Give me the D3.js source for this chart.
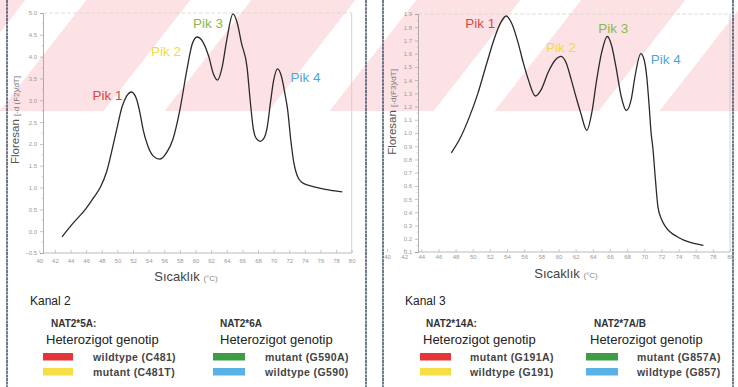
<!DOCTYPE html>
<html>
<head>
<meta charset="utf-8">
<script src="https://cdn.jsdelivr.net/npm/d3@7/dist/d3.min.js"></script>
<style>
  html, body { margin: 0; padding: 0; background: #fff; }
  svg { display: block; font-family: "Liberation Sans", Arial, sans-serif; }
</style>
</head>
<body>
<svg id="chart" width="738" height="387"></svg>
<script>
// ---------------- DATA ----------------
const xTickLabels = [40,42,44,46,48,50,52,54,56,58,60,62,64,66,68,70,72,74,76,78,80];
const yTicksKanal2 = [5.0,4.5,4.0,3.5,3.0,2.5,2.0,1.5,1.0,0.5,0.0,-0.5];
const yTicksKanal3 = [1.9,1.8,1.7,1.6,1.5,1.4,1.3,1.2,1.1,1.0,0.9,0.8,0.7,0.6,0.5,0.4,0.3,0.2,0.1];

// Kanal 2 melting curve (temperature °C, -dF2/dT)
const kanal2Temp = [42.9,44.3,45.9,47.0,47.8,48.6,49.3,49.9,50.6,51.2,51.8,52.4,52.9,53.3,53.9,54.6,55.4,56.3,57.1,58.0,58.9,59.6,60.2,60.9,61.7,62.3,62.8,63.4,64.0,64.8,65.3,65.9,66.6,67.0,67.4,67.8,68.3,68.8,69.2,69.6,70.0,70.5,71.0,71.5,71.8,72.2,72.6,73.0,73.6,74.5,75.6,77.2,78.8];
const kanal2Flu  = [-0.13,0.18,0.5,0.78,1.0,1.35,1.85,2.32,2.85,3.1,3.19,3.05,2.7,2.32,1.95,1.72,1.65,1.8,2.1,2.78,3.7,4.3,4.45,4.35,4.0,3.6,3.46,3.75,4.38,4.98,4.8,4.3,3.76,3.0,2.35,2.12,2.06,2.14,2.4,2.95,3.45,3.72,3.55,3.1,2.78,2.09,1.56,1.28,1.12,1.05,1.0,0.94,0.9];

// Kanal 3 melting curve (temperature °C, -dF3/dT)
const kanal3Temp = [47.5,48.6,49.6,50.6,51.6,52.6,53.3,53.9,54.6,55.3,55.9,56.5,57.3,58.0,58.8,59.6,60.3,60.9,61.5,62.1,62.6,63.3,63.9,64.4,65.0,65.7,66.2,66.7,67.3,67.9,68.5,68.9,69.6,70.0,70.3,70.6,70.8,71.0,71.3,71.6,72.0,72.5,74.0,75.5,76.9];
const kanal3Flu  = [0.85,0.97,1.12,1.30,1.52,1.73,1.84,1.885,1.82,1.68,1.53,1.40,1.28,1.33,1.46,1.55,1.58,1.53,1.40,1.26,1.15,1.02,1.16,1.38,1.60,1.73,1.66,1.50,1.28,1.17,1.26,1.42,1.60,1.55,1.42,1.18,1.0,0.89,0.65,0.44,0.35,0.29,0.21,0.17,0.15];

const peakNames = ["Pik 1","Pik 2","Pik 3","Pik 4"];
const kanal2PeakTemp = [51.8,60.2,64.8,70.5];
const kanal2PeakFlu  = [3.19,4.45,4.98,3.72];
const kanal3PeakTemp = [53.9,60.3,65.7,69.6];
const kanal3PeakFlu  = [1.885,1.58,1.73,1.60];

const kanal2Groups = ["NAT2*5A:","NAT2*6A"];
const kanal2Items  = [["wildtype (C481)","mutant (C481T)"],["mutant (G590A)","wildtype  (G590)"]];
const kanal3Groups = ["NAT2*14A:","NAT2*7A/B"];
const kanal3Items  = [["mutant (G191A)","wildtype (G191)"],["mutant (G857A)","wildtype (G857)"]];

// ---------------- STYLE ----------------
const peakColors = ["#e2453f","#f0dc3c","#8db84a","#4fa6dc"];
const swatchColors = [["#e5343a","#f5df45"],["#3f9c46","#58b2e6"]];

const svg = d3.select("#chart");

// watermark band
const defs = svg.append("defs");
const pat = defs.append("pattern").attr("id","wm").attr("patternUnits","userSpaceOnUse")
  .attr("width",130).attr("height",400).attr("patternTransform","rotate(38) translate(20,0)");
pat.append("rect").attr("width",130).attr("height",400).attr("fill","#fce2e5");
pat.append("rect").attr("x",0).attr("width",48).attr("height",400).attr("fill","#ffffff");
svg.append("rect").attr("x",0).attr("y",0).attr("width",738).attr("height",111).attr("fill","url(#wm)");

function panel(o) {
  const g = svg.append("g");
  const x = d3.scaleLinear().domain([40,80]).range(o.xRange);
  const y = d3.scaleLinear().domain(o.yDomain).range(o.yRange);

  // panel borders
  [o.borderL, o.borderR].forEach(bx => {
    g.append("line").attr("x1",bx).attr("x2",bx).attr("y1",0).attr("y2",387)
      .attr("stroke","#4b5872").attr("stroke-width",1.6).attr("stroke-dasharray","3,0.6");
  });

  // plot frame (top and right)
  g.append("line").attr("x1",o.axisX).attr("x2",o.xRange[1]).attr("y1",o.yRange[1]).attr("y2",o.yRange[1])
    .attr("stroke","#d8d8c8").attr("stroke-width",0.8).attr("stroke-dasharray","4,2");
  g.append("line").attr("x1",o.xRange[1]).attr("x2",o.xRange[1]).attr("y1",o.yRange[1]).attr("y2",o.yRange[0])
    .attr("stroke","#c8c8c8").attr("stroke-width",0.8);

  // y axis
  const ya = d3.axisLeft(y).tickValues(o.yTicks).tickSize(3).tickPadding(3)
    .tickFormat(d3.format(".1f"));
  const yg = g.append("g").attr("transform",`translate(${o.axisX},0)`).call(ya);
  yg.select(".domain").attr("stroke","#9a9a9a").attr("stroke-width",0.8);
  yg.selectAll(".tick line").attr("stroke","#9a9a9a").attr("stroke-width",0.6);
  yg.selectAll(".tick text").attr("fill","#9a9a9a").attr("font-size",6).attr("font-family","Liberation Sans, Arial, sans-serif");
  // minor y ticks
  const step = o.yTicks[0]-o.yTicks[1];
  const minor = o.yTicks.slice(1).map(v => v + step/2);
  g.selectAll(null).data(minor).enter().append("line")
    .attr("x1",o.axisX-1.5).attr("x2",o.axisX).attr("y1",d=>y(d)).attr("y2",d=>y(d))
    .attr("stroke","#b0b0b0").attr("stroke-width",0.5);

  // x axis
  g.append("line").attr("x1",o.axisX).attr("x2",o.xRange[1]).attr("y1",o.yRange[0]).attr("y2",o.yRange[0])
    .attr("stroke","#a8a8a8").attr("stroke-width",0.8);
  const xa = d3.axisBottom(x).tickValues(xTickLabels).tickSize(-3).tickPadding(o.xPad).tickFormat(d3.format("d"));
  const xg = g.append("g").attr("transform",`translate(0,${o.yRange[0]})`).call(xa);
  xg.select(".domain").remove();
  xg.selectAll(".tick line").attr("stroke","#a8a8a8").attr("stroke-width",0.6);
  xg.selectAll(".tick text").attr("fill","#9a9a9a").attr("font-size",6).attr("font-family","Liberation Sans, Arial, sans-serif");

  // curve
  const pts = o.temp.map((t,i)=>[t,o.flu[i]]);
  g.append("path").datum(pts)
    .attr("d", d3.line().x(d=>x(d[0])).y(d=>y(d[1])).curve(d3.curveMonotoneX))
    .attr("fill","none").attr("stroke","#2a2a2a").attr("stroke-width",1.3);

  // peak labels
  peakNames.forEach((n,i)=>{
    g.append("text").attr("x", x(o.peakT[i]) + o.peakDx[i]).attr("y", y(o.peakF[i]) + o.peakDy[i])
      .attr("text-anchor", o.peakAnchor[i]).attr("font-size",13.5).attr("fill",peakColors[i]).text(n);
  });

  // axis titles
  const yt = g.append("text").attr("transform",`translate(${o.yTitleX},${o.yTitleY}) rotate(-90)`)
    .attr("text-anchor","middle").attr("fill","#555");
  yt.append("tspan").attr("font-size",11.5).text("Floresan ");
  yt.append("tspan").attr("font-size",8).attr("fill","#777").text(o.yUnit);

  const xt = g.append("text").attr("x",o.xTitleX).attr("y",o.xTitleY).attr("text-anchor","middle").attr("fill","#444");
  xt.append("tspan").attr("font-size",13).text("Sıcaklık ");
  xt.append("tspan").attr("font-size",8).attr("fill","#888").text("(°C)");

  // legend
  g.append("text").attr("x",o.kanalX).attr("y",305).attr("font-size",12).attr("fill","#222").text(o.kanal);
  o.groups.forEach((gr,c)=>{
    const col = o.legendCols[c];
    g.append("text").attr("x",col.gx).attr("y",327).attr("font-size",10).attr("font-weight","bold").attr("fill","#333").text(gr);
    g.append("text").attr("x",col.hx).attr("y",344).attr("font-size",13).attr("fill","#222").text("Heterozigot genotip");
    o.items[c].forEach((it,r)=>{
      const yy = 353 + r*15;
      g.append("rect").attr("x",col.sx).attr("y",yy).attr("width",col.sw).attr("height",7.5).attr("fill",swatchColors[c][r]);
      g.append("text").attr("x",col.tx).attr("y",yy+7.5).attr("font-size",10.5).attr("font-weight","bold")
        .attr("letter-spacing",0.4).attr("fill","#444").text(it);
    });
  });
}

panel({
  xRange:[39.3,351.7], yDomain:[-0.5,5.0], yRange:[253,13], axisX:43, yTicks:yTicksKanal2, xPad:6,
  borderL:7, borderR:366, temp:kanal2Temp, flu:kanal2Flu,
  peakT:kanal2PeakTemp, peakF:kanal2PeakFlu, peakDx:[-9,-16,-10,13], peakDy:[8,19,14,13],
  peakAnchor:["end","end","end","start"],
  yTitleX:19, yTitleY:120, yUnit:"[-d (F2)/dT]", xTitleX:186, xTitleY:281,
  kanal:"Kanal 2", kanalX:30, groups:kanal2Groups, items:kanal2Items,
  legendCols:[{gx:51,hx:46,sx:43,sw:30,tx:93},{gx:220,hx:220,sx:213,sw:32,tx:265}]
});

panel({
  xRange:[387,730], yDomain:[0.1,1.9], yRange:[252,14], axisX:418, yTicks:yTicksKanal3, xPad:3,
  borderL:383, borderR:733, temp:kanal3Temp, flu:kanal3Flu,
  peakT:kanal3PeakTemp, peakF:kanal3PeakFlu, peakDx:[-11,0,6,10], peakDy:[12,-4,-3,10],
  peakAnchor:["end","middle","middle","start"],
  yTitleX:396, yTitleY:112, yUnit:"[-d(F3)/dT]", xTitleX:566, xTitleY:278,
  kanal:"Kanal 3", kanalX:405, groups:kanal3Groups, items:kanal3Items,
  legendCols:[{gx:426,hx:423,sx:420,sw:31,tx:470},{gx:594,hx:590,sx:586,sw:32,tx:637}]
});
</script>
</body>
</html>
